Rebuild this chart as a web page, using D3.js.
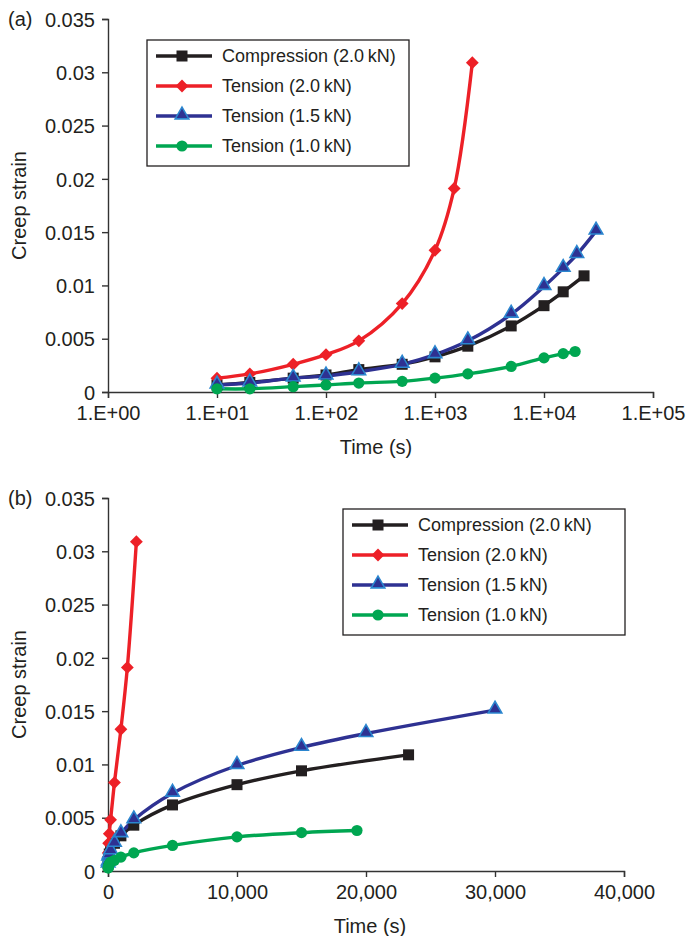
<!DOCTYPE html>
<html>
<head>
    <meta charset="utf-8">
    <script src="https://cdn.jsdelivr.net/npm/d3@7/dist/d3.min.js"></script>
    <title></title>
    <style>
        * {
            margin: 0;
            padding: 0;
        }

        body {
            background: #fff;
        }

        #chart {
            display: block;
            font-family: "Liberation Sans", Arial, sans-serif;
        }
    </style>
</head>
<body>

    <svg id="chart" width="686" height="936"></svg>

    <script>
        // values
        var seriesNames = ["Compression (2.0\u2009kN)", "Tension (2.0\u2009kN)", "Tension (1.5\u2009kN)", "Tension (1.0\u2009kN)"];

        var timeComp = [10, 20, 50, 100, 200, 500, 1000, 2000, 5000, 10000, 15000, 23300];
        var strainComp = [0.00066, 0.0009, 0.0013, 0.0016, 0.0021, 0.0026, 0.0033, 0.0043, 0.0062, 0.0081, 0.0094, 0.0109];

        var timeT20 = [10, 20, 50, 100, 200, 500, 1000, 1500, 2200];
        var strainT20 = [0.0013, 0.0017, 0.0026, 0.0035, 0.0048, 0.0083, 0.0133, 0.0191, 0.0309];

        var timeT15 = [10, 20, 50, 100, 200, 500, 1000, 2000, 5000, 10000, 15000, 20000, 30000];
        var strainT15 = [0.00066, 0.00084, 0.0013, 0.0015, 0.0019, 0.0026, 0.0035, 0.0048, 0.0073, 0.0099, 0.0116, 0.0129, 0.0151];

        var timeT10 = [10, 20, 50, 100, 200, 500, 1000, 2000, 5000, 10000, 15000, 19300];
        var strainT10 = [0.0003, 0.0003, 0.0005, 0.00066, 0.00084, 0.001, 0.0013, 0.0017, 0.0024, 0.0032, 0.0036, 0.0038];

        var yTicks = [0, 0.005, 0.01, 0.015, 0.02, 0.025, 0.03, 0.035];
        var yTickLabels = ["0", "0.005", "0.01", "0.015", "0.02", "0.025", "0.03", "0.035"];
        var logTicks = [1, 10, 100, 1000, 10000, 100000];
        var logTickLabels = ["1.E+00", "1.E+01", "1.E+02", "1.E+03", "1.E+04", "1.E+05"];
        var linTicks = [0, 10000, 20000, 30000, 40000];
        var linTickLabels = ["0", "10,000", "20,000", "30,000", "40,000"];

        var series = [
            { name: seriesNames[0], t: timeComp, v: strainComp, color: "#231f20", marker: "square" },
            { name: seriesNames[1], t: timeT20, v: strainT20, color: "#ed2027", marker: "diamond" },
            { name: seriesNames[2], t: timeT15, v: strainT15, color: "#2e3192", marker: "triangle" },
            { name: seriesNames[3], t: timeT10, v: strainT10, color: "#00a651", marker: "circle" }
        ];

        var svg = d3.select("#chart");
        var axisColor = "#333";

        function addMarker(g, type, color, x, y) {
            if (type == "square") {
                g.append("rect").attr("x", x - 5.5).attr("y", y - 5.5).attr("width", 11).attr("height", 11)
                    .attr("fill", color);
            } else if (type == "diamond") {
                g.append("path").attr("d", d3.symbol().type(d3.symbolDiamond2).size(105)())
                    .attr("transform", "translate(" + x + "," + y + ")")
                    .attr("fill", color);
            } else if (type == "triangle") {
                g.append("path").attr("d", d3.symbol().type(d3.symbolTriangle).size(80)())
                    .attr("transform", "translate(" + x + "," + (y - 1) + ")")
                    .attr("fill", color)
                    .attr("stroke", "#2b86cf")
                    .attr("stroke-width", 1.6);
            } else {
                g.append("circle").attr("cx", x).attr("cy", y).attr("r", 5.6)
                    .attr("fill", color);
            }
        }

        function drawPanel(p) {
            var g = svg.append("g");

            var y = d3.scaleLinear().domain([0, 0.035]).range([p.bottom, p.top]);
            var x = p.x;

            // axes
            var yAxis = g.append("g")
                .attr("transform", "translate(" + p.left + ",0)")
                .call(d3.axisLeft(y).tickValues(yTicks).tickSize(6).tickPadding(7)
                    .tickFormat(function (d, i) { return yTickLabels[i]; }));
            var xAxis = g.append("g")
                .attr("transform", "translate(0," + p.bottom + ")")
                .call(d3.axisBottom(x).tickValues(p.ticks).tickSize(6).tickPadding(5)
                    .tickFormat(function (d, i) { return p.tickLabels[i]; }));

            [yAxis, xAxis].forEach(function (a) {
                a.select(".domain").attr("stroke", axisColor).attr("stroke-width", 1.4);
                a.selectAll(".tick line").attr("stroke", axisColor).attr("stroke-width", 1.4);
                a.selectAll(".tick text").attr("fill", "#231f20").style("font-size", "20px")
                    .style("font-family", "Liberation Sans, Arial, sans-serif");
            });
            yAxis.selectAll(".tick text").attr("dy", "0.36em");
            xAxis.selectAll(".tick text").attr("dy", "0.85em");

            g.append("text")
                .attr("x", p.left - 100)
                .attr("y", p.top + 7)
                .attr("fill", "#231f20")
                .style("font-size", "20px")
                .text(p.label);

            g.append("text")
                .attr("x", p.titleX)
                .attr("y", p.bottom + 62)
                .attr("text-anchor", "middle")
                .attr("fill", "#231f20")
                .style("font-size", "20px")
                .text("Time (s)");

            g.append("text")
                .attr("transform", "translate(26," + ((p.top + p.bottom) / 2) + ") rotate(-90)")
                .attr("text-anchor", "middle")
                .attr("fill", "#231f20")
                .style("font-size", "20px")
                .text("Creep strain");

            // lines
            var line = d3.line()
                .x(function (d) { return x(d[0]); })
                .y(function (d) { return y(d[1]); })
                .curve(d3.curveCatmullRom.alpha(0.5));

            series.forEach(function (s) {
                var pts = s.t.map(function (t, i) { return [t, s.v[i]]; });
                g.append("path")
                    .attr("d", line(pts))
                    .attr("fill", "none")
                    .attr("stroke", s.color)
                    .attr("stroke-width", 3.4);
            });
            series.forEach(function (s) {
                var mg = g.append("g");
                s.t.forEach(function (t, i) {
                    addMarker(mg, s.marker, s.color, x(t), y(s.v[i]));
                });
            });

            // legend
            var lg = g.append("g").attr("transform", "translate(" + p.legend[0] + "," + p.legend[1] + ")");
            lg.append("rect")
                .attr("x", 0).attr("y", 0)
                .attr("width", p.legend[2]).attr("height", 126)
                .attr("fill", "#fff")
                .attr("stroke", "#231f20")
                .attr("stroke-width", 1.3);
            series.forEach(function (s, i) {
                var ly = 16 + i * 30;
                lg.append("line")
                    .attr("x1", 9).attr("x2", 65)
                    .attr("y1", ly).attr("y2", ly)
                    .attr("stroke", s.color)
                    .attr("stroke-width", 3.4);
                addMarker(lg, s.marker, s.color, 35, ly);
                lg.append("text")
                    .attr("x", 75)
                    .attr("y", ly + 6)
                    .attr("fill", "#231f20")
                    .style("font-size", "18px")
                    .text(s.name);
            });
        }

        drawPanel({
            label: "(a)",
            left: 108, top: 19, bottom: 392,
            x: d3.scaleLog().domain([1, 100000]).range([108, 653]),
            ticks: logTicks, tickLabels: logTickLabels,
            titleX: 376,
            legend: [147, 40, 262]
        });

        drawPanel({
            label: "(b)",
            left: 108, top: 498, bottom: 871,
            x: d3.scaleLinear().domain([0, 40000]).range([108, 624]),
            ticks: linTicks, tickLabels: linTickLabels,
            titleX: 370,
            legend: [343, 509, 282]
        });
    </script>
</body>
</html>
